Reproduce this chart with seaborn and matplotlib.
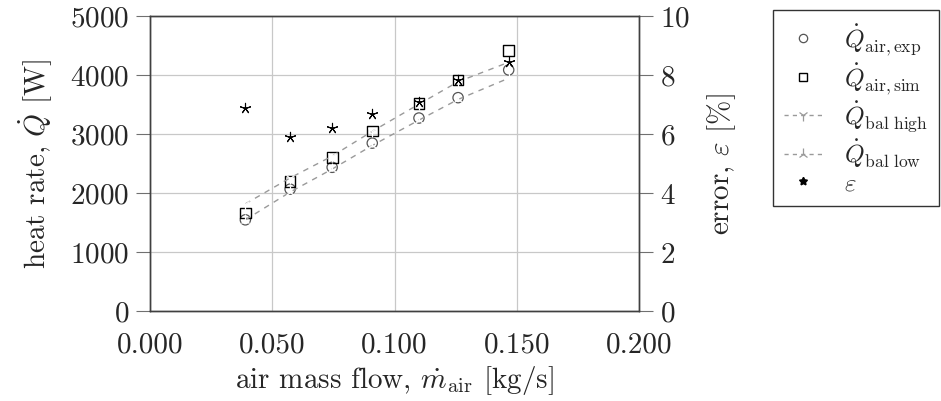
import matplotlib
matplotlib.use("Agg")
import matplotlib.pyplot as plt
from matplotlib.lines import Line2D
import seaborn as sns
import pandas as pd

# values
mass_flow = [0.039, 0.0573, 0.0745, 0.0909, 0.110, 0.126, 0.1467]
q_exp = [1540, 2060, 2430, 2840, 3265, 3610, 4080]
q_sim = [1655, 2185, 2590, 3045, 3515, 3910, 4405]
q_bal_high = [1810, 2250, 2620, 3040, 3500, 3880, 4210]
q_bal_low = [1540, 2010, 2400, 2800, 3230, 3580, 3940]
error_pct = [6.87, 5.88, 6.19, 6.67, 7.06, 7.82, 8.42]

x_ticks = [0.0, 0.05, 0.1, 0.15, 0.2]
x_tick_labels = ["0.000", "0.050", "0.100", "0.150", "0.200"]
q_ticks = [0, 1000, 2000, 3000, 4000, 5000]
err_ticks = [0, 2, 4, 6, 8, 10]

legend_labels = [r"$\dot{Q}_\mathrm{air,exp}$", r"$\dot{Q}_\mathrm{air,sim}$",
                 r"$\dot{Q}_\mathrm{bal\ high}$", r"$\dot{Q}_\mathrm{bal\ low}$",
                 r"$\varepsilon$"]

df = pd.DataFrame({
    "m_air": mass_flow,
    "q_exp": q_exp,
    "q_sim": q_sim,
    "q_high": q_bal_high,
    "q_low": q_bal_low,
    "eps": error_pct,
})

sns.set_style("white")
plt.rcParams["font.family"] = ["cmr10", "DejaVu Serif"]
plt.rcParams["mathtext.fontset"] = "cm"
plt.rcParams["axes.formatter.use_mathtext"] = True
fs = 21

fig = plt.figure(figsize=(9.41, 4.02), dpi=100)
ax = fig.add_axes([0.1594, 0.2246, 0.5197, 0.734])
ax2 = ax.twinx()

line_grey = "#9a9a9a"
dash = (0, (4, 4))
sns.lineplot(data=df, x="m_air", y="q_high", ax=ax, color=line_grey, linestyle=dash,
             linewidth=1.0, marker="1", markersize=8, markeredgewidth=0.9, legend=False)
sns.lineplot(data=df, x="m_air", y="q_low", ax=ax, color=line_grey, linestyle=dash,
             linewidth=1.0, marker="2", markersize=8, markeredgewidth=0.9, legend=False)
sns.scatterplot(data=df, x="m_air", y="q_exp", ax=ax, marker="o", s=55,
                facecolor="none", edgecolor="#555555", linewidth=0.9, legend=False)
sns.scatterplot(data=df, x="m_air", y="q_sim", ax=ax, marker="s", s=60,
                facecolor="none", edgecolor="black", linewidth=1.0, legend=False)
sns.scatterplot(data=df, x="m_air", y="eps", ax=ax2, marker=(5, 2, 0), s=55,
                color="black", linewidth=0.8, legend=False)

ax.set_xlim(0, 0.2)
ax.set_ylim(0, 5000)
ax2.set_ylim(0, 10)
ax.set_xticks(x_ticks)
ax.set_xticklabels(x_tick_labels)
ax.set_yticks(q_ticks)
ax2.set_yticks(err_ticks)

ax.grid(True, color="#c8c8c8", linewidth=0.9)
ax.set_axisbelow(True)
for a in (ax, ax2):
    for sp in a.spines.values():
        sp.set_color("#404040")
        sp.set_linewidth(1.0)
ax.tick_params(axis="both", direction="out", length=10, width=0.8, color="#707070",
               labelsize=fs, pad=5)
ax2.tick_params(axis="y", direction="out", length=10, width=0.8, color="#707070",
                labelsize=fs, pad=5)

ax.set_xlabel(r"air mass flow, $\dot{m}_\mathrm{air}$ [kg/s]", fontsize=fs, labelpad=4)
ax.set_ylabel(r"heat rate, $\dot{Q}$ [W]", fontsize=fs, labelpad=11)
ax2.set_ylabel(r"error, $\varepsilon$ [%]", fontsize=fs, labelpad=11)

# legend handles styled like the reference (small markers, dashed with marker)
handles = [
    Line2D([], [], linestyle="none", marker="o", markersize=6, markerfacecolor="none",
           markeredgecolor="#555555", markeredgewidth=0.9),
    Line2D([], [], linestyle="none", marker="s", markersize=6, markerfacecolor="none",
           markeredgecolor="black", markeredgewidth=1.0),
    Line2D([], [], color=line_grey, linestyle=(0, (3, 3)), linewidth=1.0, marker="1",
           markersize=8, markeredgewidth=0.9),
    Line2D([], [], color=line_grey, linestyle=(0, (3, 3)), linewidth=1.0, marker="2",
           markersize=8, markeredgewidth=0.9),
    Line2D([], [], linestyle="none", marker=(5, 1, 0), markersize=6, color="black"),
]
leg = fig.legend(handles, legend_labels, loc="upper left",
                 bbox_to_anchor=(773 / 941, 1 - 11 / 402), fontsize=18,
                 frameon=True, fancybox=False, edgecolor="black", handlelength=1.5,
                 labelspacing=0.12, borderpad=0.45, handletextpad=0.9, borderaxespad=0,
                 markerfirst=True)
leg.get_frame().set_linewidth(1.0)

fig.savefig("out.png", dpi=100)
